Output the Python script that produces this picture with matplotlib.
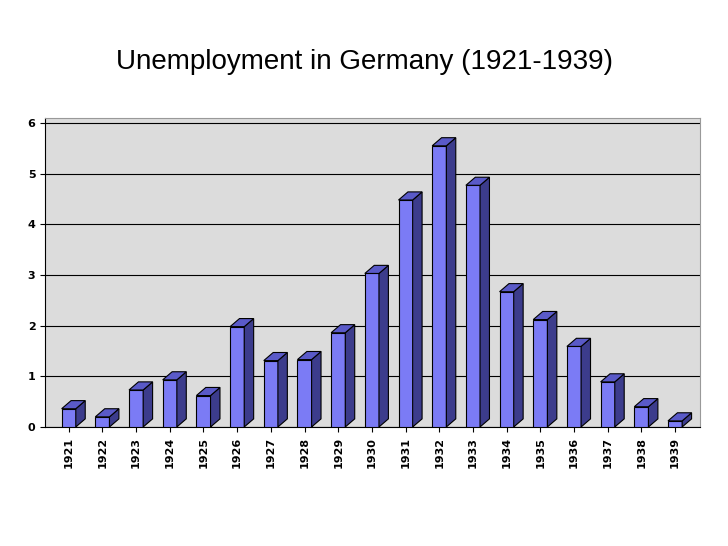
import matplotlib.pyplot as plt
from matplotlib.patches import Polygon

years = [str(y) for y in range(1921, 1940)]
unemployed = [0.36, 0.2, 0.73, 0.93, 0.62, 1.98, 1.31, 1.33, 1.86, 3.03,
              4.48, 5.55, 4.77, 2.67, 2.12, 1.59, 0.89, 0.40, 0.12]

fig = plt.figure(figsize=(7.28, 5.46), dpi=100)
fig.text(0.5, 0.886, "Unemployment in Germany (1921-1939)", ha="center",
         va="center", fontsize=20, family="Liberation Sans")
ax = fig.add_axes([0.062, 0.218, 0.9, 0.566])
ax.set_facecolor("#dcdcdc")

w, dx, dy = 0.42, 0.28, 0.16
front, side, top = "#7b7bf5", "#3c3c8c", "#5a5ac8"
xs = list(range(len(years)))
ax.bar(xs, unemployed, width=w, color=front, edgecolor="black", linewidth=0.8, zorder=3)
for x, v in zip(xs, unemployed):
    l, r = x - w / 2, x + w / 2
    ax.add_patch(Polygon([(r, 0), (r + dx, dy), (r + dx, v + dy), (r, v)],
                         facecolor=side, edgecolor="black", lw=0.8, zorder=3))
    ax.add_patch(Polygon([(l, v), (l + dx, v + dy), (r + dx, v + dy), (r, v)],
                         facecolor=top, edgecolor="black", lw=0.8, zorder=3))

ax.set_xlim(-0.7, 18.75)
ax.set_ylim(0, 6.1)
ax.set_yticks(range(7))
ax.set_xticks(xs, years, rotation=90)
ax.tick_params(labelsize=8)
for lab in ax.get_xticklabels() + ax.get_yticklabels():
    lab.set_fontweight("bold")
ax.yaxis.grid(True, color="black", linewidth=0.8, zorder=0)
ax.set_axisbelow(True)
for s in ["top", "right"]:
    ax.spines[s].set_color("#999999")

fig.savefig("out.png", dpi=100)
